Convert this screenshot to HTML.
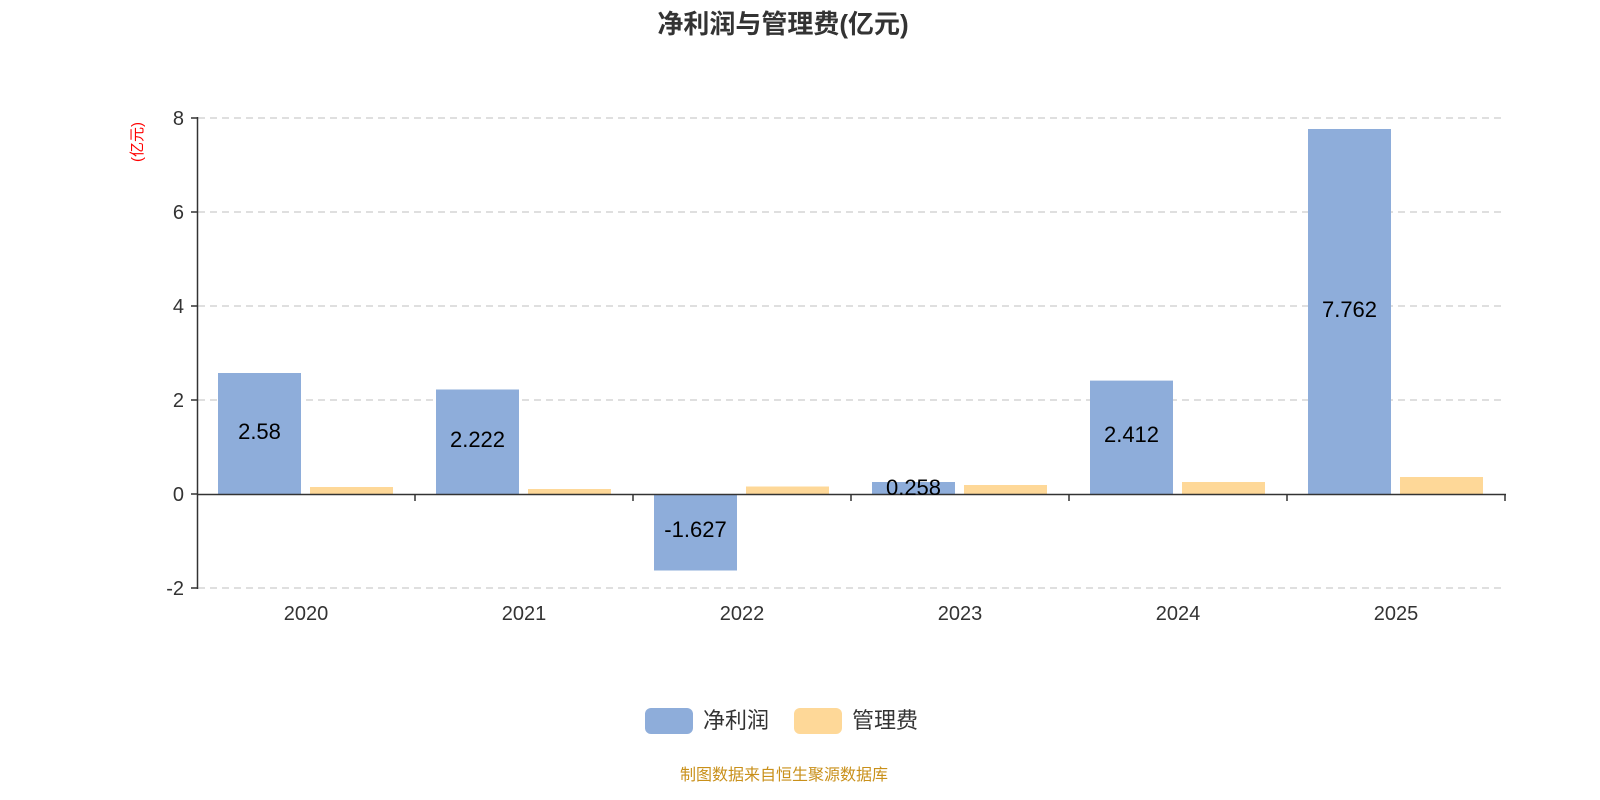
<!DOCTYPE html>
<html><head><meta charset="utf-8"><style>
html,body{margin:0;padding:0;background:#fff;}
svg{display:block;font-family:"Liberation Sans","Noto Sans CJK SC",sans-serif;}
</style></head><body>
<svg width="1600" height="800" viewBox="0 0 1600 800" xmlns="http://www.w3.org/2000/svg">
<text x="783" y="33" text-anchor="middle" font-size="26" font-weight="bold" fill="#333">净利润与管理费(亿元)</text>
<g stroke="#ccc" stroke-dasharray="7,5" stroke-width="1.3">
<line x1="198" y1="118" x2="1505" y2="118"/>
<line x1="198" y1="212" x2="1505" y2="212"/>
<line x1="198" y1="306" x2="1505" y2="306"/>
<line x1="198" y1="400" x2="1505" y2="400"/>
<line x1="198" y1="588" x2="1505" y2="588"/>
</g>
<g fill="#8eadda">
<rect x="218" y="373" width="83" height="121"/>
<rect x="436" y="389.5" width="83" height="104.5"/>
<rect x="654" y="494" width="83" height="76.5"/>
<rect x="872" y="482" width="83" height="12"/>
<rect x="1090" y="380.6" width="83" height="113.4"/>
<rect x="1308" y="129" width="83" height="365"/>
</g>
<g fill="#fed898">
<rect x="310" y="487" width="83" height="7"/>
<rect x="528" y="489" width="83" height="5"/>
<rect x="746" y="486.5" width="83" height="7.5"/>
<rect x="964" y="485" width="83" height="9"/>
<rect x="1182" y="482" width="83" height="12"/>
<rect x="1400" y="477" width="83" height="17"/>
</g>
<g stroke="#333" stroke-width="1.5">
<line x1="197.5" y1="117" x2="197.5" y2="589"/>
<line x1="191" y1="118" x2="198" y2="118"/>
<line x1="191" y1="212" x2="198" y2="212"/>
<line x1="191" y1="306" x2="198" y2="306"/>
<line x1="191" y1="400" x2="198" y2="400"/>
<line x1="191" y1="494" x2="198" y2="494"/>
<line x1="191" y1="588" x2="198" y2="588"/>
<line x1="197" y1="494.5" x2="1506" y2="494.5"/>
<line x1="415" y1="494" x2="415" y2="501"/>
<line x1="633" y1="494" x2="633" y2="501"/>
<line x1="851" y1="494" x2="851" y2="501"/>
<line x1="1069" y1="494" x2="1069" y2="501"/>
<line x1="1287" y1="494" x2="1287" y2="501"/>
<line x1="1505" y1="494" x2="1505" y2="501"/>
</g>
<g font-size="20" fill="#333" text-anchor="end">
<text x="184" y="125">8</text>
<text x="184" y="219">6</text>
<text x="184" y="313">4</text>
<text x="184" y="407">2</text>
<text x="184" y="501">0</text>
<text x="184" y="595">-2</text>
</g>
<text transform="translate(142,142) rotate(-90)" text-anchor="middle" font-size="15" fill="#f00">(亿元)</text>
<g font-size="20" fill="#333" text-anchor="middle">
<text x="306" y="620">2020</text>
<text x="524" y="620">2021</text>
<text x="742" y="620">2022</text>
<text x="960" y="620">2023</text>
<text x="1178" y="620">2024</text>
<text x="1396" y="620">2025</text>
</g>
<g font-size="22" fill="#000" text-anchor="middle">
<text x="259.5" y="439">2.58</text>
<text x="477.5" y="447">2.222</text>
<text x="695.5" y="537">-1.627</text>
<text x="913.5" y="495">0.258</text>
<text x="1131.5" y="442">2.412</text>
<text x="1349.5" y="317">7.762</text>
</g>
<rect x="645" y="708" width="48" height="26" rx="6" fill="#8eadda"/>
<text x="703" y="728" font-size="22" fill="#333">净利润</text>
<rect x="794" y="708" width="48" height="26" rx="6" fill="#fed898"/>
<text x="852" y="728" font-size="22" fill="#333">管理费</text>
<text x="784" y="780" text-anchor="middle" font-size="16" fill="#c9901a">制图数据来自恒生聚源数据库</text>
</svg>
</body></html>
